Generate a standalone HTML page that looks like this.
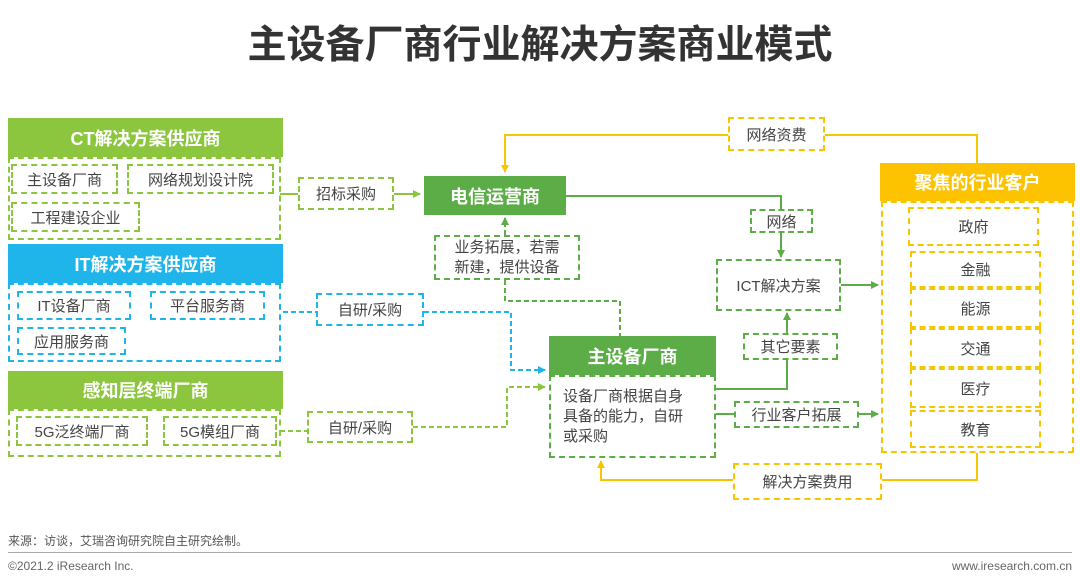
<!DOCTYPE html><html><head><meta charset="utf-8"><style>
body{margin:0;width:1080px;height:586px;background:#fff;position:relative;overflow:hidden;font-family:"Liberation Sans","Noto Sans CJK SC",sans-serif;color:#444}
.a{position:absolute;box-sizing:border-box;display:flex;align-items:center;justify-content:center;text-align:center}
.h{color:#fff;font-weight:bold;font-size:18px}
.g{border:2px dashed #8cc63f}.b{border:2px dashed #1fb5ea}.y{border:2px dashed #f7c600}.dg{border:2px dashed #5cad47}
.t{font-size:15px}
svg{position:absolute;left:0;top:0}
</style></head><body>
<div class="a" style="left:0;top:14px;width:1080px;height:56px;font-size:39px;font-weight:bold;color:#333">主设备厂商行业解决方案商业模式</div>
<svg width="1080" height="586"><defs>
<marker id="mg" markerWidth="8" markerHeight="8" refX="7" refY="4" orient="auto" markerUnits="userSpaceOnUse"><path d="M0,0L8,4L0,8z" fill="#8cc63f"/></marker>
<marker id="md" markerWidth="8" markerHeight="8" refX="7" refY="4" orient="auto" markerUnits="userSpaceOnUse"><path d="M0,0L8,4L0,8z" fill="#5cad47"/></marker>
<marker id="mb" markerWidth="8" markerHeight="8" refX="7" refY="4" orient="auto" markerUnits="userSpaceOnUse"><path d="M0,0L8,4L0,8z" fill="#1fb5ea"/></marker>
<marker id="my" markerWidth="8" markerHeight="8" refX="7" refY="4" orient="auto" markerUnits="userSpaceOnUse"><path d="M0,0L8,4L0,8z" fill="#f7c600"/></marker>
</defs>
<g fill="none" stroke-width="2">
<path d="M280 194H298M394 194H420" stroke="#8cc63f" marker-end="url(#mg)"/>
<path d="M283 312H316" stroke="#1fb5ea" stroke-dasharray="5,3"/>
<path d="M424 312H511V370H545" stroke="#1fb5ea" stroke-dasharray="5,3" marker-end="url(#mb)"/>
<path d="M280 431H307" stroke="#8cc63f" stroke-dasharray="5,3"/>
<path d="M413 427H507V387H545" stroke="#8cc63f" stroke-dasharray="5,3" marker-end="url(#mg)"/>
<path d="M505 235V218" stroke="#5cad47" stroke-dasharray="5,3" marker-end="url(#md)"/>
<path d="M505 280V301H620V336" stroke="#5cad47" stroke-dasharray="5,3"/>
<path d="M566 196H781V209" stroke="#5cad47"/>
<path d="M781 233V257" stroke="#5cad47" marker-end="url(#md)"/>
<path d="M841 285H878" stroke="#5cad47" marker-end="url(#md)"/>
<path d="M716 389H787V360M787 333V313" stroke="#5cad47" marker-end="url(#md)"/>
<path d="M716 414H734M859 414H878" stroke="#5cad47" marker-end="url(#md)"/>
<path d="M977 453V480H882M733 480H601V461" stroke="#f7c600" marker-end="url(#my)"/>
<path d="M977 163V135H825M728 135H505V172" stroke="#f7c600" marker-end="url(#my)"/>
</g></svg>
<div class="a h" style="left:8px;top:118px;width:275px;height:39px;background:#8cc63f">CT解决方案供应商</div>
<div class="a g" style="left:8px;top:157px;width:273px;height:83px"></div>
<div class="a g t" style="left:11px;top:164px;width:107px;height:30px">主设备厂商</div>
<div class="a g t" style="left:127px;top:164px;width:147px;height:30px">网络规划设计院</div>
<div class="a g t" style="left:11px;top:202px;width:129px;height:30px">工程建设企业</div>
<div class="a g t" style="left:298px;top:177px;width:96px;height:33px">招标采购</div>
<div class="a h" style="left:8px;top:244px;width:275px;height:39px;background:#1fb5ea">IT解决方案供应商</div>
<div class="a b" style="left:8px;top:283px;width:273px;height:79px"></div>
<div class="a b t" style="left:17px;top:291px;width:114px;height:29px">IT设备厂商</div>
<div class="a b t" style="left:150px;top:291px;width:115px;height:29px">平台服务商</div>
<div class="a b t" style="left:17px;top:327px;width:109px;height:28px">应用服务商</div>
<div class="a b t" style="left:316px;top:293px;width:108px;height:33px">自研/采购</div>
<div class="a h" style="left:8px;top:371px;width:275px;height:38px;background:#8cc63f">感知层终端厂商</div>
<div class="a g" style="left:8px;top:409px;width:273px;height:48px"></div>
<div class="a g t" style="left:16px;top:416px;width:132px;height:30px">5G泛终端厂商</div>
<div class="a g t" style="left:163px;top:416px;width:114px;height:30px">5G模组厂商</div>
<div class="a g t" style="left:307px;top:411px;width:106px;height:32px">自研/采购</div>
<div class="a h" style="left:424px;top:176px;width:142px;height:39px;background:#5cad47">电信运营商</div>
<div class="a dg t" style="left:434px;top:235px;width:146px;height:45px;line-height:20px">业务拓展，若需<br>新建，提供设备</div>
<div class="a h" style="left:549px;top:336px;width:167px;height:39px;background:#5cad47">主设备厂商</div>
<div class="a dg t" style="left:549px;top:375px;width:167px;height:83px;line-height:20px;justify-content:flex-start;text-align:left;padding-left:12px">设备厂商根据自身<br>具备的能力，自研<br>或采购</div>
<div class="a y t" style="left:728px;top:117px;width:97px;height:34px">网络资费</div>
<div class="a dg t" style="left:750px;top:209px;width:63px;height:24px">网络</div>
<div class="a dg t" style="left:716px;top:259px;width:125px;height:52px">ICT解决方案</div>
<div class="a dg t" style="left:743px;top:333px;width:95px;height:27px">其它要素</div>
<div class="a dg t" style="left:734px;top:401px;width:125px;height:27px">行业客户拓展</div>
<div class="a y t" style="left:733px;top:463px;width:149px;height:37px">解决方案费用</div>
<div class="a h" style="left:880px;top:163px;width:195px;height:38px;background:#fdc300">聚焦的行业客户</div>
<div class="a y" style="left:881px;top:201px;width:193px;height:252px"></div>
<div class="a y t" style="left:908px;top:207px;width:131px;height:39px">政府</div>
<div class="a y t" style="left:910px;top:251px;width:131px;height:37px">金融</div>
<div class="a y t" style="left:910px;top:288px;width:131px;height:40px">能源</div>
<div class="a y t" style="left:910px;top:328px;width:131px;height:40px">交通</div>
<div class="a y t" style="left:910px;top:368px;width:131px;height:40px">医疗</div>
<div class="a y t" style="left:910px;top:410px;width:131px;height:38px">教育</div>
<div style="position:absolute;left:8px;top:532px;font-size:12px;color:#555">来源：访谈，艾瑞咨询研究院自主研究绘制。</div>
<div style="position:absolute;left:8px;top:552px;width:1064px;height:1px;background:#aaa"></div>
<div style="position:absolute;left:8px;top:559px;font-size:12px;color:#666">©2021.2 iResearch Inc.</div>
<div style="position:absolute;right:8px;top:559px;font-size:12px;color:#666">www.iresearch.com.cn</div>
</body></html>
